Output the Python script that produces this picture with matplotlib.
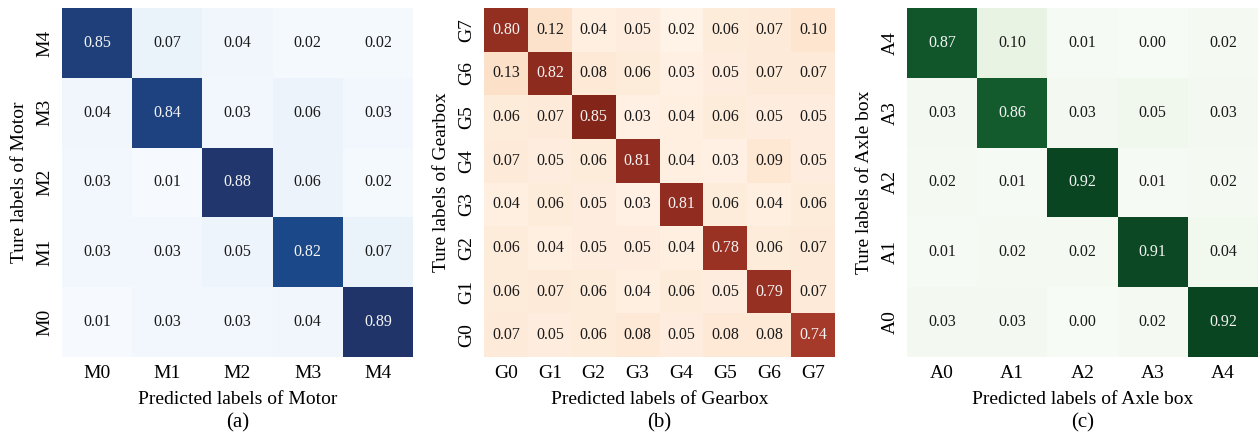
import numpy as np
import matplotlib
matplotlib.use("Agg")
import matplotlib.pyplot as plt
from matplotlib.colors import LinearSegmentedColormap

plt.rcParams['font.family'] = ['Liberation Serif', 'DejaVu Serif']

# ---- data (rows listed top -> bottom as displayed) ----
motor_labels = ["M0", "M1", "M2", "M3", "M4"]
motor_rows = ["M4", "M3", "M2", "M1", "M0"]
motor_vals = [
    [0.85, 0.07, 0.04, 0.02, 0.02],
    [0.04, 0.84, 0.03, 0.06, 0.03],
    [0.03, 0.01, 0.88, 0.06, 0.02],
    [0.03, 0.03, 0.05, 0.82, 0.07],
    [0.01, 0.03, 0.03, 0.04, 0.89],
]

gear_labels = ["G0", "G1", "G2", "G3", "G4", "G5", "G6", "G7"]
gear_rows = ["G7", "G6", "G5", "G4", "G3", "G2", "G1", "G0"]
gear_vals = [
    [0.80, 0.12, 0.04, 0.05, 0.02, 0.06, 0.07, 0.10],
    [0.13, 0.82, 0.08, 0.06, 0.03, 0.05, 0.07, 0.07],
    [0.06, 0.07, 0.85, 0.03, 0.04, 0.06, 0.05, 0.05],
    [0.07, 0.05, 0.06, 0.81, 0.04, 0.03, 0.09, 0.05],
    [0.04, 0.06, 0.05, 0.03, 0.81, 0.06, 0.04, 0.06],
    [0.06, 0.04, 0.05, 0.05, 0.04, 0.78, 0.06, 0.07],
    [0.06, 0.07, 0.06, 0.04, 0.06, 0.05, 0.79, 0.07],
    [0.07, 0.05, 0.06, 0.08, 0.05, 0.08, 0.08, 0.74],
]

axle_labels = ["A0", "A1", "A2", "A3", "A4"]
axle_rows = ["A4", "A3", "A2", "A1", "A0"]
axle_vals = [
    [0.87, 0.10, 0.01, 0.00, 0.02],
    [0.03, 0.86, 0.03, 0.05, 0.03],
    [0.02, 0.01, 0.92, 0.01, 0.02],
    [0.01, 0.02, 0.02, 0.91, 0.04],
    [0.03, 0.03, 0.00, 0.02, 0.92],
]

blue_cmap = LinearSegmentedColormap.from_list(
    "blue", [(0.0, "#f7fbff"), (0.1, "#e6eff9"), (0.5, "#6a9fcf"),
             (0.92, "#1b4889"), (1.0, "#213469")])
gear_cmap = LinearSegmentedColormap.from_list(
    "gear", [(0.0, "#fff5eb"), (0.15, "#fde1c9"), (0.5, "#ee8a5c"),
             (0.87, "#a63a2a"), (1.0, "#84251a")])
green_cmap = LinearSegmentedColormap.from_list(
    "green", [(0.0, "#f7fbf5"), (0.11, "#e8f3e3"), (0.5, "#6fb87a"),
              (0.94, "#12592d"), (1.0, "#0a4521")])

panels = [
    dict(vals=motor_vals, xl=motor_labels, yl=motor_rows, cmap=blue_cmap,
         xlabel="Predicted labels of Motor", ylabel="Ture labels of Motor", tag="(a)",
         left=62),
    dict(vals=gear_vals, xl=gear_labels, yl=gear_rows, cmap=gear_cmap,
         xlabel="Predicted labels of Gearbox", ylabel="Ture labels of Gearbox", tag="(b)",
         left=484),
    dict(vals=axle_vals, xl=axle_labels, yl=axle_rows, cmap=green_cmap,
         xlabel="Predicted labels of Axle box", ylabel="Ture labels of Axle box", tag="(c)",
         left=907),
]

W, H = 1260, 441
fig = plt.figure(figsize=(W / 100, H / 100), dpi=100)

for p in panels:
    ax = fig.add_axes([p["left"] / W, (H - 357) / H, 351 / W, 349 / H])
    data = np.array(p["vals"])
    n_r, n_c = data.shape
    vmax = data.max()
    ax.pcolormesh(np.arange(n_c + 1), np.arange(n_r + 1), data,
                  cmap=p["cmap"], vmin=0, vmax=vmax)
    ax.set_xlim(0, n_c)
    ax.set_ylim(n_r, 0)
    for i in range(n_r):
        for j in range(n_c):
            v = data[i, j]
            color = "#f4f4f4" if v > 0.5 * vmax else "#1a1a1a"
            ax.text(j + 0.5, i + 0.5, f"{v:.2f}", ha="center", va="center",
                    fontsize=11.5, color=color)
    ax.set_xticks(np.arange(n_c) + 0.5)
    ax.set_xticklabels(p["xl"], fontsize=14)
    ax.set_yticks(np.arange(n_r) + 0.5)
    ax.set_yticklabels(p["yl"], fontsize=14, rotation=90, va="center")
    ax.tick_params(length=0, pad=6)
    for s in ax.spines.values():
        s.set_visible(False)
    ax.set_xlabel(p["xlabel"], fontsize=14, labelpad=6)
    ax.set_ylabel(p["ylabel"], fontsize=14, labelpad=6)
    ax.text(0.5, -0.19, p["tag"], transform=ax.transAxes, ha="center", va="center",
            fontsize=15)

fig.savefig("out.png", dpi=100)
